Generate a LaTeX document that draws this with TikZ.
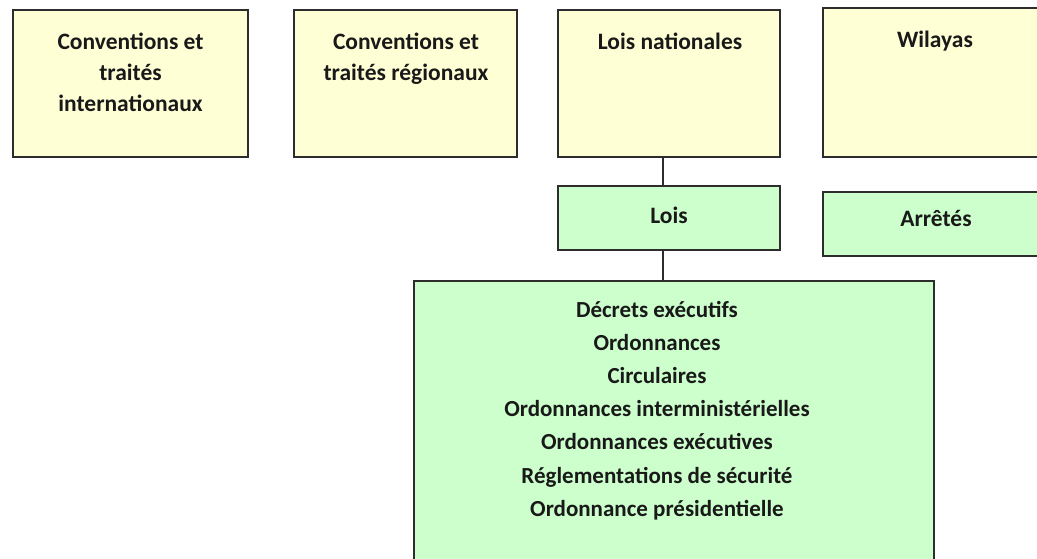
\documentclass[tikz,border=0pt]{standalone}
\usepackage{fontspec}
\setmainfont{Carlito}
\definecolor{boxyellow}{RGB}{255,255,214}
\definecolor{boxgreen}{RGB}{204,255,204}
\definecolor{boxline}{RGB}{45,45,45}
\tikzset{
  box/.style={draw=boxline, line width=1.3pt, rectangle, inner sep=0pt},
  ybox/.style={box, fill=boxyellow},
  gbox/.style={box, fill=boxgreen},
  lbl/.style={anchor=base, align=center, inner sep=0pt, text=black!90,
    font=\fontsize{23.5}{31}\selectfont\bfseries},
  biglbl/.style={lbl, font=\fontsize{23}{33.2}\selectfont\bfseries},
  conn/.style={draw=boxline, line width=1.3pt}
}
\begin{document}
\begin{tikzpicture}[x=1pt,y=-1pt]
\useasboundingbox (0,0) rectangle (1037,559);
\clip (0,0) rectangle (1037,559);
\fill[white] (0,0) rectangle (1037,559);
% boxes
\node[ybox, minimum width=235pt, minimum height=147pt] (intl) at (130.5,83.5) {};
\node[ybox, minimum width=223pt, minimum height=147pt] (reg) at (405.5,83.5) {};
\node[ybox, minimum width=222pt, minimum height=147pt] (nat) at (669,83.5) {};
\node[ybox, minimum width=227pt, minimum height=149pt] (wil) at (936.5,82.5) {};
\node[gbox, minimum width=222pt, minimum height=64pt] (lois) at (669,218) {};
\node[gbox, minimum width=227pt, minimum height=64pt] (arr) at (936.5,224) {};
\node[gbox, minimum width=520pt, minimum height=319pt] (big) at (674,440.5) {};
% texts (anchor base = baseline of last line)
\node[lbl] (tintl) at (130.5,112) {Conventions et\\traités\\internationaux};
\node[lbl] (treg) at (406,81) {Conventions et\\traités régionaux};
\node[lbl] (tnat) at (670,50) {Lois nationales};
\node[lbl] (twil) at (935,48) {Wilayas};
\node[lbl] (tlois) at (669,223) {Lois};
\node[lbl] (tarr) at (936,226) {Arrêtés};
\node[biglbl] (tbig) at (657,516.2) {Décrets exécutifs\\Ordonnances\\Circulaires\\Ordonnances interministérielles\\Ordonnances exécutives\\Réglementations de sécurité\\Ordonnance présidentielle};
% connectors
\coordinate (cx) at (663,0);
\draw[conn] (nat.south -| cx) -- (lois.north -| cx);
\draw[conn] (lois.south -| cx) -- (big.north -| cx);
\end{tikzpicture}
\end{document}
